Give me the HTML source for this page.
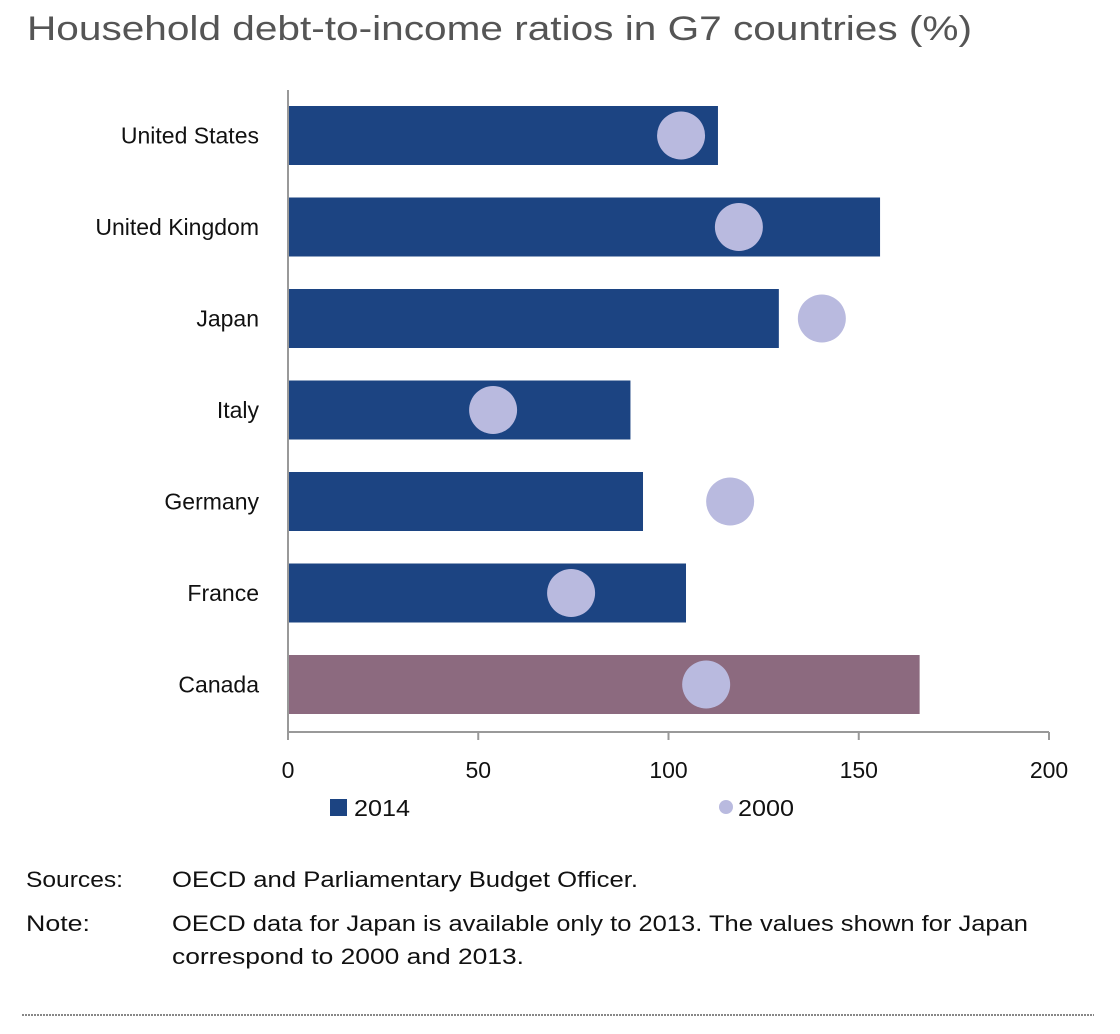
<!DOCTYPE html>
<html><head><meta charset="utf-8"><style>
html,body{margin:0;padding:0;background:#fff}
svg{display:block;font-family:"Liberation Sans",sans-serif}
</style></head><body>
<svg id="chart" width="1120" height="1034" viewBox="0 0 1120 1034">
<text x="27" y="40" font-size="34" fill="#555" textLength="945" lengthAdjust="spacingAndGlyphs">Household debt-to-income ratios in G7 countries (%)</text>
<g id="plot"></g>
<g>
<rect x="330" y="799" width="17" height="17" fill="#1c4482"/>
<text x="354" y="816" font-size="23" fill="#111" textLength="56" lengthAdjust="spacingAndGlyphs">2014</text>
<circle cx="726" cy="807" r="7" fill="#b9badf"/>
<text x="738" y="816" font-size="23" fill="#111" textLength="56" lengthAdjust="spacingAndGlyphs">2000</text>
</g>
<g font-size="22" fill="#111">
<text x="26" y="887" textLength="97" lengthAdjust="spacingAndGlyphs">Sources:</text>
<text x="172" y="887" textLength="466" lengthAdjust="spacingAndGlyphs">OECD and Parliamentary Budget Officer.</text>
<text x="26" y="931" textLength="64" lengthAdjust="spacingAndGlyphs">Note:</text>
<text x="172" y="931" textLength="856" lengthAdjust="spacingAndGlyphs">OECD data for Japan is available only to 2013. The values shown for Japan</text>
<text x="172" y="964" textLength="352" lengthAdjust="spacingAndGlyphs">correspond to 2000 and 2013.</text>
</g>
<line x1="22" y1="1015" x2="1094" y2="1015" stroke="#888" stroke-width="2" stroke-dasharray="2,1"/>
</svg>
<script>
const categories = ["United States","United Kingdom","Japan","Italy","Germany","France","Canada"];
const values2014 = [113, 155.6, 129, 90, 93.3, 104.6, 166];
const values2000 = [103.3, 118.5, 140.3, 53.9, 116.2, 74.4, 109.9];
const ticks = [0, 50, 100, 150, 200];

const NS = "http://www.w3.org/2000/svg";
const plotG = document.getElementById("plot");
const X0 = 288, X1 = 1049, XMAX = 200;
const plotTop = 90, pitch = 91.5, barH = 59, axisY = 732;
function xs(v){ return X0 + (v / XMAX) * (X1 - X0); }
function rowY(i){ return plotTop + 16 + i * pitch; }
function mk(tag, attrs){ const e = document.createElementNS(NS, tag); for (const k in attrs) e.setAttribute(k, attrs[k]); plotG.appendChild(e); return e; }

categories.forEach((c, i) => {
  const y = rowY(i);
  const bar = mk("rect", {x: X0, y: y, width: xs(values2014[i]) - X0, height: barH, fill: i === 6 ? "#8c6a7f" : "#1c4482"});
  
  
  const dot = mk("circle", {cx: xs(values2000[i]), cy: y + barH / 2, r: 24, fill: "#b9badf"});
  
  
  const lab = mk("text", {x: 259, y: y + barH / 2 + 8, "font-size": 23, fill: "#111", "text-anchor": "end"});
  lab.textContent = c;
  
  
});

const yAxis = mk("line", {x1: X0, y1: plotTop, x2: X0, y2: axisY, stroke: "#999", "stroke-width": 2});


const xAxis = mk("line", {x1: X0, y1: axisY, x2: X1, y2: axisY, stroke: "#999", "stroke-width": 2});


ticks.forEach(t => {
  const tk = mk("line", {x1: xs(t), y1: axisY, x2: xs(t), y2: axisY + 8, stroke: "#999", "stroke-width": 2});
  
  
  const tl = mk("text", {x: xs(t), y: 778, "font-size": 23, fill: "#111", "text-anchor": "middle"});
  tl.textContent = t;
  
  
});
</script>
</body></html>
